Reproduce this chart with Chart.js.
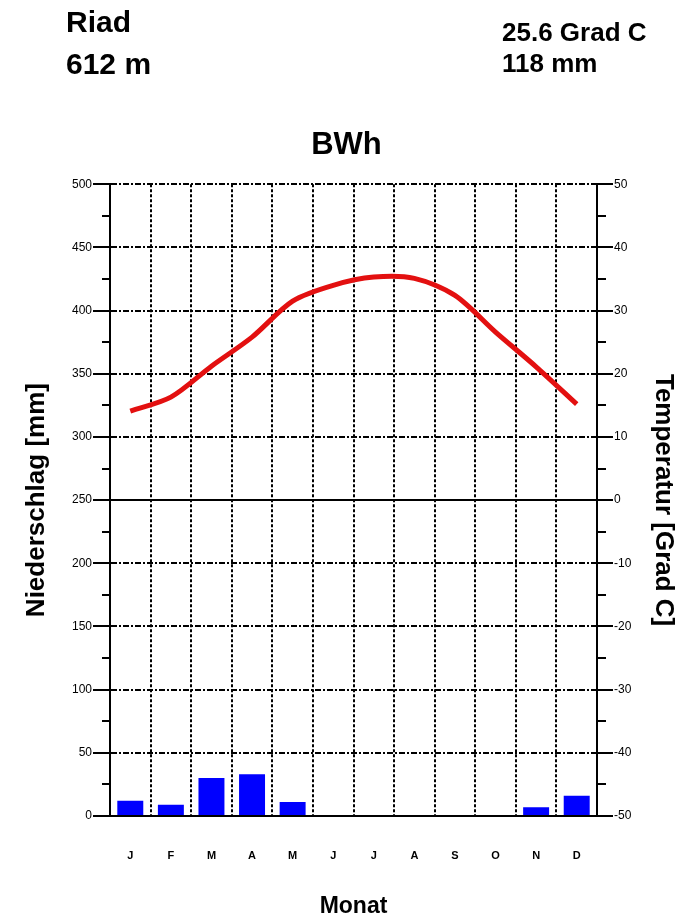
<!DOCTYPE html>
<html lang="de">
<head>
    <meta charset="UTF-8">
    <title>Klimadiagramm Riad</title>
    <script src="https://cdn.jsdelivr.net/npm/chart.js"></script>
    <style>
        body {
            margin: 0;
            background: #fff;
            font-family: "Liberation Sans", Arial, sans-serif;
        }

        .wrap {
            position: relative;
            width: 693px;
            height: 920px;
        }

        .hdr {
            position: absolute;
            font-weight: bold;
            color: #000;
            white-space: nowrap;
            z-index: 2;
        }

        .big {
            font-size: 30px;
        }

        .small {
            font-size: 26px;
        }
    </style>
</head>
<body>
    <div class="wrap">
        <div class="hdr big" style="left:66px; top:5px;">Riad</div>
        <div class="hdr big" style="left:66px; top:47px;">612 m</div>
        <div class="hdr small" style="left:502px; top:17px;">25.6 Grad C</div>
        <div class="hdr small" style="left:502px; top:48px;">118 mm</div>
        <canvas id="klima" width="693" height="920"></canvas>
    </div>

    <script>
        // Monatswerte
        const months = ['J', 'F', 'M', 'A', 'M', 'J', 'J', 'A', 'S', 'O', 'N', 'D'];
        const precipitation = [12, 9, 30, 33, 11, 0, 0, 0, 0, 0, 7, 16];        // mm
        const temperature = [14.1, 16.3, 21.2, 25.8, 31.5, 34.0, 35.3, 35.1, 32.4, 26.6, 21.1, 15.2]; // Grad C

        const precipRange = [0, 500];
        const tempRange = [-50, 50];

        const font = '"Liberation Sans", Arial, sans-serif';

        // kurze Zwischenstriche an beiden Achsen
        const minorTicks = {
            id: 'minorTicks',
            afterDraw(chart) {
                const ctx = chart.ctx;
                const left = chart.scales.y;
                const right = chart.scales.y1;
                const area = chart.chartArea;
                ctx.save();
                ctx.strokeStyle = '#000';
                ctx.lineWidth = 2;
                ctx.beginPath();
                for (let v = precipRange[0] + 25; v < precipRange[1]; v += 50) {
                    const p = Math.round(left.getPixelForValue(v));
                    ctx.moveTo(area.left - 8, p);
                    ctx.lineTo(area.left, p);
                }
                for (let v = tempRange[0] + 5; v < tempRange[1]; v += 10) {
                    const p = Math.round(right.getPixelForValue(v));
                    ctx.moveTo(area.right, p);
                    ctx.lineTo(area.right + 9, p);
                }
                ctx.stroke();
                ctx.restore();
            }
        };

        new Chart(document.getElementById('klima'), {
            type: 'bar',
            data: {
                labels: months,
                datasets: [
                    {
                        type: 'line',
                        label: 'Temperatur',
                        data: temperature,
                        yAxisID: 'y1',
                        borderColor: '#e31010',
                        borderWidth: 5,
                        pointRadius: 0,
                        tension: 0.3,
                        fill: false,
                        order: 0
                    },
                    {
                        type: 'bar',
                        label: 'Niederschlag',
                        data: precipitation,
                        yAxisID: 'y',
                        backgroundColor: '#0000ff',
                        categoryPercentage: 1,
                        barPercentage: 0.64,
                        order: 1
                    }
                ]
            },
            options: {
                responsive: false,
                animation: false,
                layout: { padding: 0 },
                plugins: {
                    legend: { display: false },
                    tooltip: { enabled: false },
                    title: {
                        display: true,
                        text: 'BWh',
                        color: '#000',
                        font: { family: font, size: 31, weight: 'bold', lineHeight: 1.2 },
                        padding: { top: 127, bottom: 20 }
                    }
                },
                scales: {
                    x: {
                        offset: true,
                        grid: {
                            offset: true,
                            color: '#000',
                            lineWidth: 2,
                            drawTicks: false
                        },
                        border: { display: true, color: '#000', width: 2, dash: [3, 2] },
                        ticks: {
                            color: '#000',
                            padding: 33,
                            font: { family: font, size: 11, weight: 'bold' }
                        },
                        title: {
                            display: true,
                            text: 'Monat',
                            color: '#000',
                            font: { family: font, size: 23, weight: 'bold' },
                            padding: { bottom: 0 }
                        },
                        afterFit(scale) { scale.height = 104; }
                    },
                    y: {
                        position: 'left',
                        min: precipRange[0],
                        max: precipRange[1],
                        ticks: {
                            stepSize: 50,
                            color: '#000',
                            padding: 1,
                            font: { family: font, size: 12 }
                        },
                        grid: {
                            color: '#000',
                            lineWidth: 2,
                            tickLength: 17,
                            tickColor: '#000'
                        },
                        border: {
                            display: true,
                            color: '#000',
                            width: 2,
                            dash: ctx => (ctx.tick && ctx.tick.value === 250 ? [] : [6, 2, 2, 2])
                        },
                        title: {
                            display: true,
                            text: 'Niederschlag [mm]',
                            color: '#000',
                            font: { family: font, size: 26, weight: 'bold' },
                            padding: { top: 21 }
                        },
                        afterFit(scale) { scale.width = 110; }
                    },
                    y1: {
                        position: 'right',
                        min: tempRange[0],
                        max: tempRange[1],
                        ticks: {
                            stepSize: 10,
                            color: '#000',
                            padding: 1,
                            font: { family: font, size: 12 }
                        },
                        grid: {
                            drawOnChartArea: false,
                            color: '#000',
                            lineWidth: 2,
                            tickLength: 16
                        },
                        border: { display: true, color: '#000', width: 2 },
                        title: {
                            display: true,
                            text: 'Temperatur [Grad C]',
                            color: '#000',
                            font: { family: font, size: 26, weight: 'bold' },
                            padding: { top: 14 }
                        },
                        afterFit(scale) { scale.width = 96; }
                    }
                }
            },
            plugins: [minorTicks]
        });
    </script>
</body>
</html>
